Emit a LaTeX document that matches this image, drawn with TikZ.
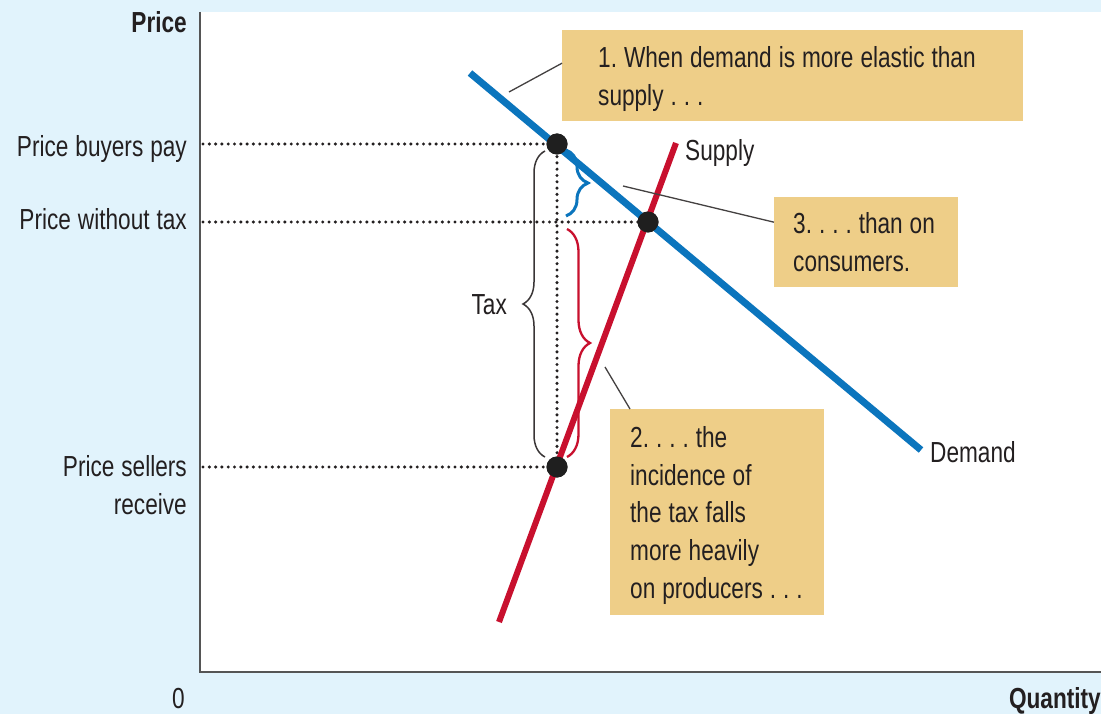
\documentclass[tikz,border=0pt]{standalone}
\usepackage{fontspec}
\setmainfont{Liberation Sans}[FakeStretch=0.78]
\usetikzlibrary{decorations.pathreplacing}
\definecolor{bgblue}{HTML}{E1F3FC}
\definecolor{demandblue}{HTML}{0B75BD}
\definecolor{supplyred}{HTML}{C8102E}
\definecolor{notetan}{HTML}{EECE88}
\definecolor{inkgray}{HTML}{231F20}
\definecolor{axisgray}{HTML}{555555}
\frenchspacing
\newcommand\labelfont{\fontsize{29}{37.7}\selectfont\spaceskip=0.24em plus 0.05em minus 0.03em\relax}
\begin{document}
\begin{tikzpicture}[x=1pt,y=-1pt,
  every node/.style={text=inkgray, inner sep=0pt},
  txt/.style={font=\labelfont},
  bold/.style={font=\labelfont\bfseries},
  notebox/.style={fill=notetan, anchor=north west, inner sep=0pt},
  notetext/.style={txt, anchor=west, align=left},
  guide/.style={draw=inkgray, line width=3.4pt, dash pattern=on 0pt off 6.3pt, line cap=round},
  leader/.style={draw=inkgray!85, line width=1.3pt},
  dot/.style={circle, fill=black!88, minimum size=21pt, inner sep=0pt},
  curly/.style={decorate, decoration={brace, amplitude=#1}},
  axis/.style={draw=axisgray, line width=2.5pt}]

% canvas and plot area
\useasboundingbox (0,0) rectangle (1101,714);
\fill[bgblue] (0,0) rectangle (1101,714);
\fill[white] (201,12) rectangle (1101,671);

% axes
\coordinate (origin) at (200,672);
\coordinate (ytop) at (200,12);
\coordinate (xend) at (1101,672);
\draw[axis] (ytop) -- (origin) -- (xend);

% axis labels
\node[bold, anchor=base east] (plabel) at (187,33) {Price};
\node[bold, anchor=base east] (qlabel) at (1101,708) {Quantity};
\node[txt, anchor=base east] (zero) at (185,708) {0};
\node[txt, anchor=base east] (lpb) at (187,157) {Price buyers pay};
\node[txt, anchor=base east] (lpw) at (187,230) {Price without tax};
\node[txt, anchor=east, align=right] (lps) at (187,485) {Price sellers\\receive};

% points on the price axis
\coordinate (ypb) at (203,144);
\coordinate (ypw) at (203,222);
\coordinate (yps) at (203,467);

% braces
\draw[curly=22, draw=inkgray!90, line width=1.5pt] (545,457) -- (545,151);
\node[txt, anchor=base east] (tax) at (507,315) {Tax};
\draw[curly=22, draw=demandblue, line width=3pt] (566,150) -- (566,216);
\draw[curly=23, draw=supplyred, line width=2.3pt] (567,229) -- (567,457);

% dotted guides
\node[dot] (pb) at (557,144) {};
\node[dot] (pw) at (648,222) {};
\node[dot] (ps) at (557,467) {};
\draw[guide] (ypb) -- (pb.center);
\draw[guide] (ypw) -- (pw.center);
\draw[guide] (yps) -- (ps.center);
\draw[guide] (pb.center) -- (ps.center);

% demand and supply curves
\coordinate (d0) at (470,73);
\coordinate (d1) at (921,450);
\coordinate (s0) at (499,622);
\coordinate (s1) at (676,143);
\draw[demandblue, line width=7pt] (d0) -- (d1);
\draw[supplyred, line width=6pt] (s0) -- (s1);
\node[dot] at (pb) {};
\node[dot] at (pw) {};
\node[dot] at (ps) {};
\node[txt, anchor=base west] (supply) at (685,161) {Supply};
\node[txt, anchor=base west] (demand) at (930,462) {Demand};

% callouts
\node[notebox, minimum width=461pt, minimum height=91pt] (n1) at (562,30) {};
\node[notetext] (t1) at ([xshift=36pt, yshift=-3pt]n1.west)
  {1. When demand is more elastic than\\supply . . .};
\node[notebox, minimum width=184pt, minimum height=90pt] (n3) at (774,197) {};
\node[notetext] (t3) at ([xshift=19pt]n3.west)
  {3. . . . than on\\consumers.};
\node[notebox, minimum width=214pt, minimum height=206pt] (n2) at (610,409) {};
\node[notetext] (t2) at ([xshift=20pt, yshift=-3pt]n2.west)
  {2. . . . the\\incidence of\\the tax falls\\more heavily\\on producers . . .};

\coordinate (c1) at (509,92);
\coordinate (c3) at (623,186);
\coordinate (c2) at (605,367);
\draw[leader] (c1) -- ([yshift=12.5pt]n1.west);
\draw[leader] (c3) -- ([yshift=20pt]n3.west);
\draw[leader] (c2) -- ([xshift=20pt]n2.north west);
\end{tikzpicture}
\end{document}
